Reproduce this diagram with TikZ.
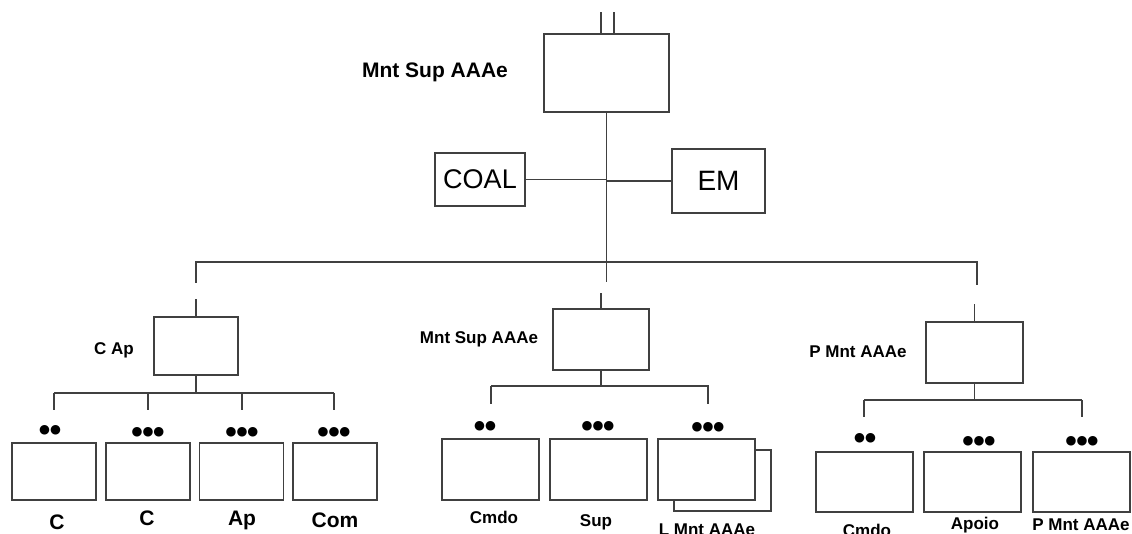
\documentclass[tikz,border=0pt]{standalone}
\usepackage{fontspec}
\setmainfont{Liberation Sans}
\newfontfamily\dotfont{DejaVu Sans}
\usetikzlibrary{calc}

\tikzset{
  box/.style={draw=black!75,line width=1.5pt,fill=white,inner sep=0pt},
  line/.style={draw=black!75,line width=1.5pt},
  lbl/.style={inner sep=0pt,font=\bfseries\fontsize{17}{20}\selectfont},
  dots/.style={inner sep=0pt,font=\dotfont\fontsize{12.5}{13}\selectfont}
}

\begin{document}
\begin{tikzpicture}[x=1pt,y=-1pt]
\useasboundingbox (0,0) rectangle (1132,534);
% top level
\node[box,minimum width=125pt,minimum height=78pt] (hq) at (606.5,73) {};
\node[lbl,font=\bfseries\fontsize{21}{24}\selectfont] (hqlbl) at (435,72) {Mnt Sup AAAe};
\draw[line] ([xshift=-5.5pt]hq.north) -- ++(0,-21);
\draw[line] ([xshift=7.5pt]hq.north) -- ++(0,-21);
\node[box,minimum width=90pt,minimum height=53pt,font=\fontsize{27}{30}\selectfont] (coal) at (480,179.5) {COAL};
\node[box,minimum width=93pt,minimum height=64pt,font=\fontsize{28}{30}\selectfont] (em) at (718.5,181) {EM};
\coordinate (spine) at (606,282);
\draw[line] (hq.south) -- (hq.south |- spine);
\draw[line] (coal.east) -- (coal.east -| spine);
\draw[line] (em.west) -- (em.west -| spine);
\coordinate (busL) at (196,262);
\coordinate (busR) at (977,262);
\draw[line] ($(busL)+(0,21)$) -- (busL) -- (busR) -- ++(0,23);

% second level
\node[box,minimum width=84pt,minimum height=58pt] (cap) at (196,346) {};
\node[lbl] (caplbl) at (114,350) {C Ap};
\node[box,minimum width=96pt,minimum height=61pt] (mid) at (601,339.5) {};
\node[lbl] (midlbl) at (479,339) {Mnt Sup AAAe};
\node[box,minimum width=97pt,minimum height=61pt] (pm) at (974.5,352.5) {};
\node[lbl] (pmlbl) at (858,352) {P Mnt AAAe};
\draw[line] (cap.north) -- ++(0,-17);
\draw[line] (mid.north) -- ++(0,-15);
\draw[line] (pm.north) -- ++(0,-17);

% left branch
\coordinate (capbus) at (196,393);
\draw[line] (cap.south) -- (capbus);
\draw[line] (54,393) -- (334,393);
\foreach \x in {54,148,242,334}
  \draw[line] (\x,393) -- ++(0,17);
\foreach \n/\x/\d/\dx/\dy/\t/\tx/\ty in {c1/54/●●/50/430/C/57/522, c2/148/●●●/148/432/C/147/518,
    c3/241.5/●●●/242/432/Ap/242/520, c4/335/●●●/334/432/Com/335/520}{
  \node[box,minimum width=84pt,minimum height=57pt] (\n) at (\x,471.5) {};
  \node[dots] (\n dots) at (\dx,\dy) {\d};
  \node[lbl,font=\bfseries\fontsize{21}{24}\selectfont] (\n lbl) at (\tx,\ty) {\t};
}

% middle branch
\coordinate (midbus) at (600,386);
\draw[line] (mid.south) -- (mid.south |- midbus);
\draw[line] (491,386) -- (709,386);
\foreach \x in {491,708}
  \draw[line] (\x,386) -- ++(0,18);
\node[box,minimum width=97pt,minimum height=61pt] (m3back) at (722.5,480.5) {};
\foreach \n/\x/\d/\dx/\dy/\t/\tx/\ty in {m1/490.5/●●/485/426/Cmdo/494/517, m2/598.5/●●●/598/426/Sup/596/522,
    m3/706.5/●●●/708/427/L Mnt AAAe/707/530}{
  \node[box,minimum width=97pt,minimum height=61pt] (\n) at (\x,469.5) {};
  \node[dots] (\n dots) at (\dx,\dy) {\d};
  \node[lbl] (\n lbl) at (\tx,\ty) {\t};
}

% right branch
\coordinate (pmbus) at (976,400);
\draw[line] (pm.south) -- (pm.south |- pmbus);
\draw[line] (864,400) -- (1082,400);
\foreach \x in {864,1082}
  \draw[line] (\x,400) -- ++(0,17);
\foreach \n/\x/\d/\dx/\dy/\t/\tx/\ty in {p1/864.5/●●/865/438/Cmdo/867/530, p2/972.5/●●●/979/441/Apoio/975/525,
    p3/1081.5/●●●/1082/441/P Mnt AAAe/1081/525}{
  \node[box,minimum width=97pt,minimum height=60pt] (\n) at (\x,482) {};
  \node[dots] (\n dots) at (\dx,\dy) {\d};
  \node[lbl] (\n lbl) at (\tx,\ty) {\t};
}
\end{tikzpicture}
\end{document}
